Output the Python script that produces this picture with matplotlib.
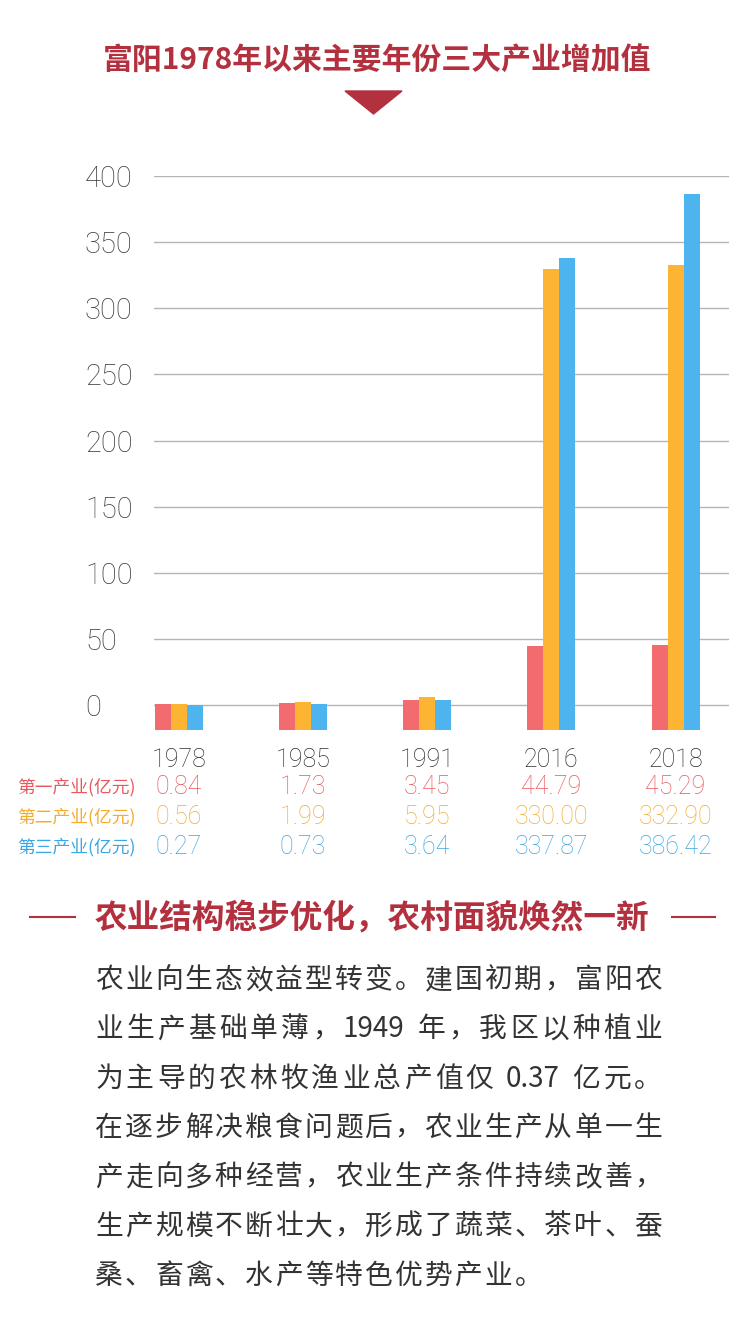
import numpy as np
import matplotlib
matplotlib.use("Agg")
from matplotlib import pyplot as plt
from matplotlib import transforms
from matplotlib.patches import Polygon
from matplotlib.lines import Line2D

plt.rcParams['font.family'] = ['Noto Sans CJK SC', 'DejaVu Sans']
num_font = ['Roboto', 'Noto Sans CJK SC', 'DejaVu Sans']

# data
years = ["1978", "1985", "1991", "2016", "2018"]
primary = [0.84, 1.73, 3.45, 44.79, 45.29]
secondary = [0.56, 1.99, 5.95, 330.00, 332.90]
tertiary = [0.27, 0.73, 3.64, 337.87, 386.42]
series_names = ["第一产业(亿元)", "第二产业(亿元)", "第三产业(亿元)"]
y_ticks = [0, 50, 100, 150, 200, 250, 300, 350, 400]

title = "富阳1978年以来主要年份三大产业增加值"
heading = "农业结构稳步优化，农村面貌焕然一新"
body_lines = [
    "农业向生态效益型转变。建国初期，富阳农",
    "业生产基础单薄，1949 年，我区以种植业",
    "为主导的农林牧渔业总产值仅 0.37 亿元。",
    "在逐步解决粮食问题后，农业生产从单一生",
    "产走向多种经营，农业生产条件持续改善，",
    "生产规模不断壮大，形成了蔬菜、茶叶、蚕",
    "桑、畜禽、水产等特色优势产业。",
]

bar_colors = ["#f26b6f", "#fcb432", "#4db4f0"]
text_colors = ["#e9585e", "#f5ab2c", "#3aa6e4"]
dark_red = "#b3303f"

W, H = 750, 1327
fig = plt.figure(figsize=(W / 100, H / 100), dpi=100)
fig.patch.set_facecolor("white")


def fx(px):
    return px / W


def fy(py):
    return 1 - py / H


# chart area (pixels): x 154..729, y 176..729.5
bar_bottom = -18.5
ax_top, ax_bot = 176, 729.5
ax = fig.add_axes([fx(154), fy(ax_bot), fx(729 - 154), (ax_bot - ax_top) / H])
ax.set_facecolor("none")

x = np.arange(len(years))
bw = 0.129
for i, (vals, c) in enumerate(zip([primary, secondary, tertiary], bar_colors)):
    v = np.array(vals)
    ax.bar(x + (i - 1) * bw, v - bar_bottom, bottom=bar_bottom, width=bw,
           color=c, zorder=3, linewidth=0)

ax.set_xlim(-0.2, 4.43)
ax.set_ylim(bar_bottom, 400)
ax.set_yticks(y_ticks)
ax.set_yticklabels([str(t) for t in y_ticks], ha="left", family=num_font,
                   fontweight="light")
ax.tick_params(axis="y", length=0, pad=49.7, labelsize=21, labelcolor="#3c3c3c")
ax.set_xticks([])
ax.grid(axis="y", color="#b4b4b4", linewidth=1.0, zorder=0)
for s in ax.spines.values():
    s.set_visible(False)

# year row and value table under the chart
bt = transforms.blended_transform_factory(ax.transData, fig.transFigure)
for xi, yr in zip(x, years):
    ax.text(xi, fy(760), yr, transform=bt, ha="center", va="center", family=num_font,
            fontsize=18, color="#2e2e2e", fontweight="light", clip_on=False)

row_y = [787, 817, 847]
for vals, name, c, ry in zip([primary, secondary, tertiary], series_names, text_colors, row_y):
    fig.text(fx(17), fy(ry), name, ha="left", va="center", fontsize=12.8, color=c)
    for xi, v in zip(x, vals):
        ax.text(xi, fy(ry), f"{v:.2f}", transform=bt, ha="center", va="center",
                family=num_font, fontsize=18, color=c, fontweight="light",
                clip_on=False)

# title and marker triangle
fig.text(fx(377), fy(60), title, ha="center", va="center", fontsize=21.5,
         color=dark_red, fontweight="bold")
fig.patches.append(Polygon([[fx(345), fy(91)], [fx(402), fy(91)], [fx(373.5), fy(114)]],
                           closed=True, transform=fig.transFigure, color=dark_red))

# section heading with side rules
fig.text(fx(372), fy(918), heading, ha="center", va="center", fontsize=23.5,
         color=dark_red, fontweight="black")
for x0, x1 in [(30, 75), (672, 715)]:
    fig.lines.append(Line2D([fx(x0), fx(x1)], [fy(917), fy(917)], transform=fig.transFigure,
                            color=dark_red, linewidth=1.5))

# justified body text
fig.canvas.draw()
renderer = fig.canvas.get_renderer()
body_size = 20
left, right = 95, 662


def tokens(line):
    out = []
    buf = ""
    for ch in line:
        if ch.isascii() and ch != " ":
            buf += ch
        else:
            if buf:
                out.append(buf)
                buf = ""
            out.append(ch)
    if buf:
        out.append(buf)
    return out


def width_of(tok):
    if tok == " ":
        t = fig.text(0, 0, "a a", fontsize=body_size)
        w2 = t.get_window_extent(renderer).width
        t.remove()
        t = fig.text(0, 0, "aa", fontsize=body_size)
        w1 = t.get_window_extent(renderer).width
        t.remove()
        return w2 - w1
    t = fig.text(0, 0, tok, fontsize=body_size)
    w = t.get_window_extent(renderer).width
    t.remove()
    return w


line_gap = None
for li, line in enumerate(body_lines):
    toks = tokens(line)
    widths = [width_of(t) for t in toks]
    natural = sum(widths)
    if li < len(body_lines) - 1:
        gap = (right - left - natural) / (len(toks) - 1)
        if line_gap is None:
            line_gap = gap
    else:
        gap = line_gap
    cx = left
    yy = 980 + li * 49.3
    for t, w in zip(toks, widths):
        if t != " ":
            fig.text(fx(cx), fy(yy), t, ha="left", va="center", fontsize=body_size,
                     color="#333333")
        cx += w + gap

fig.savefig("out.png", dpi=100, facecolor="white")
